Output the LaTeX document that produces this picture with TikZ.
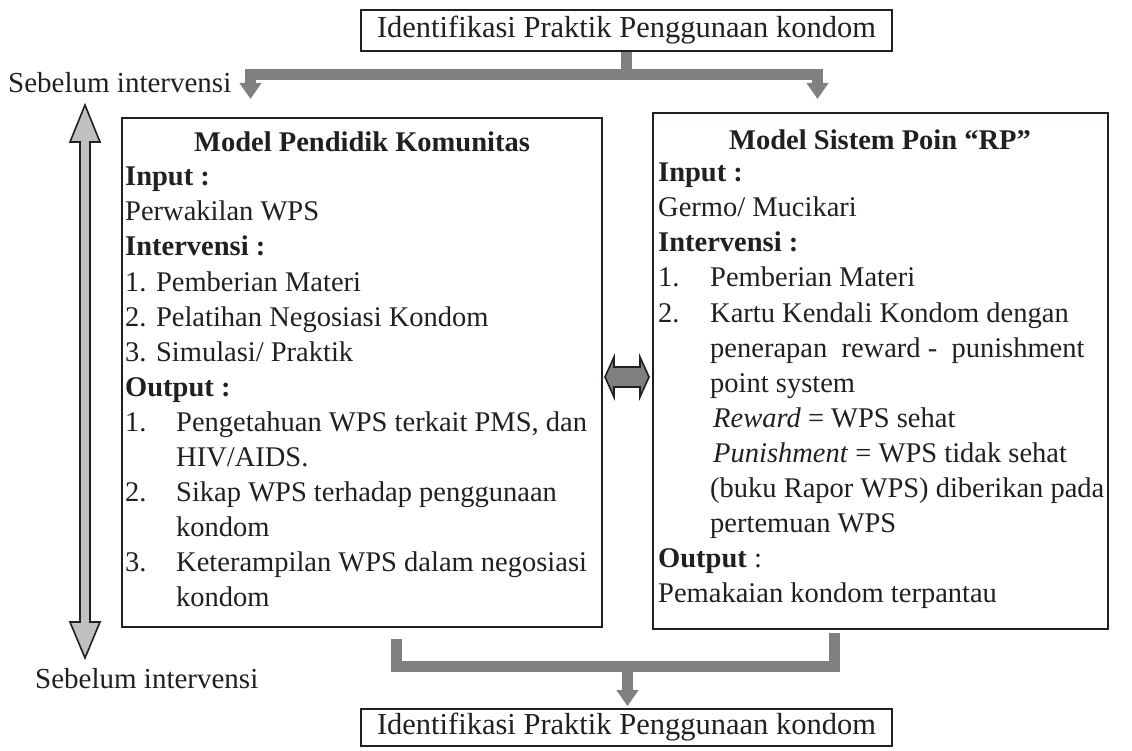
\documentclass[tikz,border=0pt]{standalone}
\usepackage{fontspec}
\setmainfont{Liberation Serif}
\usetikzlibrary{arrows.meta}
\definecolor{ink}{HTML}{231F20}
\definecolor{connGray}{HTML}{808080}
\definecolor{lightFill}{HTML}{C0C0C0}
\definecolor{darkFill}{HTML}{7F7F7F}
\newcommand\bodyf{\fontsize{28.5}{34}\selectfont}
\newcommand\topf{\fontsize{30.5}{36}\selectfont}
\begin{document}
\begin{tikzpicture}[x=1pt,y=-1pt,
  every node/.style={text=ink},
  box/.style={draw=ink, line width=1.8pt, inner sep=0pt},
  txt/.style={anchor=base west, inner sep=0pt, font=\bodyf},
  txtb/.style={anchor=base west, inner sep=0pt, font=\bodyf\bfseries},
  ttl/.style={anchor=base, inner sep=0pt, font=\bodyf\bfseries},
  bar/.style={draw=connGray, line width=11pt, line cap=butt, line join=miter},
  conn/.style={bar, -{Triangle[width=21pt,length=16pt]}},
  bigarrow/.style={draw=ink, line width=1.6pt, line join=miter}
]
\useasboundingbox (0,0) rectangle (1132,751);

% boxes
\node[box, minimum width=531pt, minimum height=41pt, font=\topf] (top) at (626.5,30.5) {Identifikasi Praktik Penggunaan kondom};
\node[box, minimum width=531pt, minimum height=37pt, font=\topf] (bottom) at (626.5,727.5) {Identifikasi Praktik Penggunaan kondom};
\node[box, minimum width=480pt, minimum height=509pt] (lbox) at (362,372.5) {};
\node[box, minimum width=455pt, minimum height=516pt] (rbox) at (880.5,371) {};

% side labels
\node[txt, font=\fontsize{29}{34}\selectfont] (s1) at (8,93) {Sebelum intervensi};
\node[txt, font=\fontsize{29}{34}\selectfont] (s2) at (35,688) {Sebelum intervensi};

% top connectors
\coordinate (ltip) at (250.5,99);
\coordinate (rtip) at (817.5,99);
\draw[conn] (top.south) -- ++(0,23) -| (ltip);
\draw[conn] (top.south) -- ++(0,23) -| (rtip);

% bottom connectors
\coordinate (lb) at (396,639);
\coordinate (rb) at (834,633);
\coordinate (mid) at (627.5,666);
\draw[bar] (lb) |- (mid) -| (rb);
\draw[conn] (mid) -- ([xshift=1pt,yshift=2pt]bottom.north);

% vertical double arrow
\draw[bigarrow, fill=lightFill] (85,105) -- (100,142) -- (90,142) -- (90,622) -- (100,622) -- (85,658) -- (70,622) -- (80,622) -- (80,142) -- (70,142) -- cycle;

% horizontal double arrow between boxes
\draw[bigarrow, fill=darkFill] (605,377) -- (614,357) -- (614,367) -- (640,367) -- (640,357) -- (649,377) -- (640,397) -- (640,387) -- (614,387) -- (614,397) -- cycle;

% left box text
\node[ttl] (lt) at (362,152) {Model Pendidik Komunitas};
\node[txtb] (l1) at (125,186) {Input :};
\node[txt] (l2) at (125,221) {Perwakilan WPS};
\node[txtb] (l3) at (125,256) {Intervensi :};
\node[txt] (l4) at (125,291) {1. Pemberian Materi};
\node[txt] (l5) at (125,326) {2. Pelatihan Negosiasi Kondom};
\node[txt] (l6) at (125,361) {3. Simulasi/ Praktik};
\node[txtb] (l7) at (125,396) {Output :};
\node[txt] (l8n) at (125,431) {1.};
\node[txt] (l8) at (176,431) {Pengetahuan WPS terkait PMS, dan};
\node[txt] (l9) at (176,466) {HIV/AIDS.};
\node[txt] (l10n) at (125,501) {2.};
\node[txt] (l10) at (176,501) {Sikap WPS terhadap penggunaan};
\node[txt] (l11) at (176,536) {kondom};
\node[txt] (l12n) at (125,571) {3.};
\node[txt] (l12) at (176,571) {Keterampilan WPS dalam negosiasi};
\node[txt] (l13) at (176,606) {kondom};

% right box text
\node[ttl] (rt) at (880,150) {Model Sistem Poin “RP”};
\node[txtb] (r1) at (658,182) {Input :};
\node[txt] (r2) at (658,217) {Germo/ Mucikari};
\node[txtb] (r3) at (658,252) {Intervensi :};
\node[txt] (r4n) at (658,287) {1.};
\node[txt] (r4) at (710,287) {Pemberian Materi};
\node[txt] (r5n) at (658,322) {2.};
\node[txt] (r5) at (710,322) {Kartu Kendali Kondom dengan};
\node[txt] (r6) at (710,357) {penerapan\ \ reward -\ \ punishment};
\node[txt] (r7) at (710,392) {point system};
\node[txt] (r8) at (713,427) {\textit{Reward} = WPS sehat};
\node[txt] (r9) at (713,462) {\textit{Punishment} = WPS tidak sehat};
\node[txt] (r10) at (710,497) {(buku Rapor WPS) diberikan pada};
\node[txt] (r11) at (710,532) {pertemuan WPS};
\node[txt] (r12) at (658,567) {\textbf{Output} :};
\node[txt] (r13) at (658,602) {Pemakaian kondom terpantau};
\end{tikzpicture}
\end{document}
